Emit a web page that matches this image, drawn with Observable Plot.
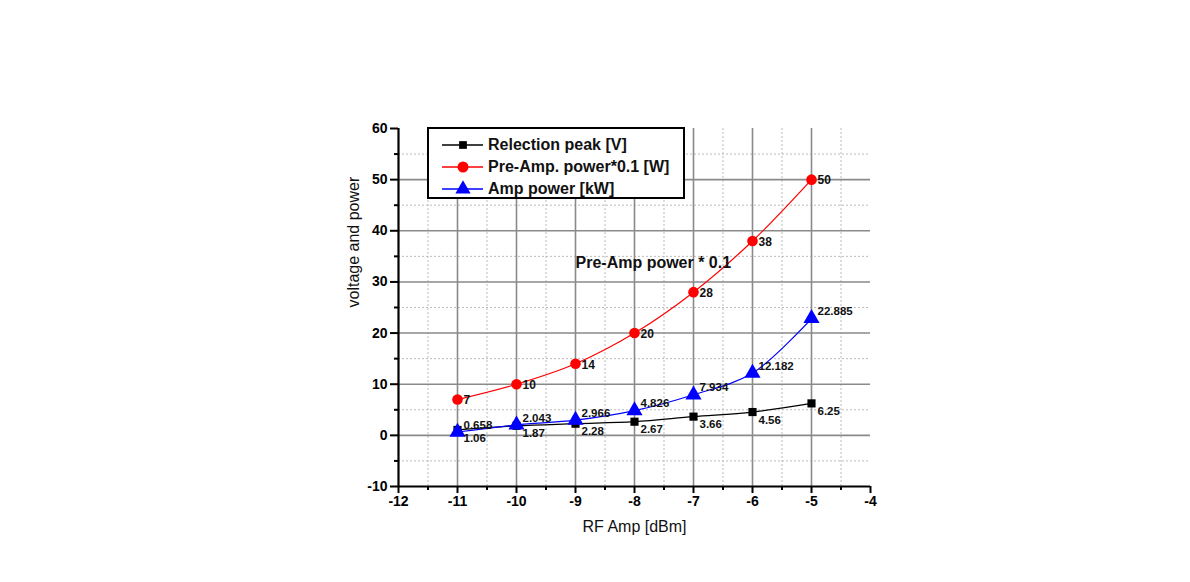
<!DOCTYPE html>
<html>
<head>
<meta charset="utf-8">
<script src="https://cdn.jsdelivr.net/npm/d3@7"></script>
<script src="https://cdn.jsdelivr.net/npm/@observablehq/plot@0.6"></script>
<style>
  html, body { margin: 0; padding: 0; background: #fff; }
  #wrap { position: relative; width: 1190px; height: 582px; font-family: "Liberation Sans", Arial, sans-serif; }
  #legend { position: absolute; left: 427px; top: 127px; width: 254px; height: 68px; border: 2px solid #000; background: #fff; }
  #legend .row { position: absolute; left: 0; height: 20px; display: flex; align-items: center; font-size: 16px; font-weight: bold; color: #111; }
  #legend svg { display: block; }
</style>
</head>
<body>
<div id="wrap"></div>
<script>
// ---- data ----
const rfAmp = [-11, -10, -9, -8, -7, -6, -5];
const relectionPeak = [1.06, 1.87, 2.28, 2.67, 3.66, 4.56, 6.25];
const relectionLabels = ["1.06", "1.87", "2.28", "2.67", "3.66", "4.56", "6.25"];
const preAmpPower = [7, 10, 14, 20, 28, 38, 50];
const preAmpLabels = ["7", "10", "14", "20", "28", "38", "50"];
const ampPower = [0.658, 2.043, 2.966, 4.826, 7.934, 12.182, 22.885];
const ampLabels = ["0.658", "2.043", "2.966", "4.826", "7.934", "12.182", "22.885"];
const seriesNames = ["Relection peak [V]", "Pre-Amp. power*0.1 [W]", "Amp power [kW]"];
const seriesColors = ["#000000", "#ff0000", "#0000ff"];
const seriesSymbols = ["square", "circle", "triangle"];
const xTicks = [-12, -11, -10, -9, -8, -7, -6, -5, -4];
const xMinor = [-11.5, -10.5, -9.5, -8.5, -7.5, -6.5, -5.5, -4.5];
const yTicks = [-10, 0, 10, 20, 30, 40, 50, 60];
const yMinor = [-5, 5, 15, 25, 35, 45, 55];
const annotation = [{x: -9.0, y: 33.8, text: "Pre-Amp power * 0.1"}];
const xLabel = "RF Amp [dBm]";
const yLabel = "voltage and power";

const mk = (vals, labels) => rfAmp.map((x, i) => ({x, y: vals[i], label: labels[i]}));
const sBlack = mk(relectionPeak, relectionLabels);
const sRed = mk(preAmpPower, preAmpLabels);
const sBlue = mk(ampPower, ampLabels);

const font = "'Liberation Sans', Arial, sans-serif";
const fmt = d => d < 0 ? "-" + Math.abs(d) : String(d);

const chart = Plot.plot({
  width: 1190,
  height: 582,
  marginLeft: 398,
  marginRight: 320,
  marginTop: 128,
  marginBottom: 96,
  style: {fontFamily: font, fontSize: "14px", background: "#fff", color: "#000"},
  x: {domain: [-12, -4]},
  y: {domain: [-10, 60]},
  marks: [
    // minor grid (dotted)
    Plot.ruleX(xMinor, {stroke: "#bbb", strokeDasharray: "2,2", strokeWidth: 1}),
    Plot.ruleY(yMinor, {stroke: "#bbb", strokeDasharray: "2,2", strokeWidth: 1}),
    // major grid
    Plot.ruleX(xTicks.slice(1, -1), {stroke: "#8a8a8a", strokeWidth: 1.6}),
    Plot.ruleY(yTicks.slice(1, -1), {stroke: "#8a8a8a", strokeWidth: 1.6}),
    // axes
    Plot.axisX({ticks: xMinor, tickSize: 4, tickFormat: () => "", label: null, strokeWidth: 2}),
    Plot.axisY({ticks: yMinor, tickSize: 4, tickFormat: () => "", label: null, strokeWidth: 2}),
    Plot.axisX({ticks: xTicks, tickSize: 7, tickPadding: 3, tickFormat: fmt, label: null, fontWeight: "bold", fontSize: 14, strokeWidth: 2}),
    Plot.axisY({ticks: yTicks, tickSize: 8, tickPadding: 3, tickFormat: fmt, label: null, fontWeight: "bold", fontSize: 14, strokeWidth: 2}),
    Plot.ruleX([-12], {stroke: "#000", strokeWidth: 2.2}),
    Plot.ruleY([-10], {stroke: "#000", strokeWidth: 2.2}),
    // lines
    Plot.line(sBlack, {x: "x", y: "y", stroke: seriesColors[0], strokeWidth: 1.2, curve: "catmull-rom"}),
    Plot.line(sRed, {x: "x", y: "y", stroke: seriesColors[1], strokeWidth: 1.2, curve: "catmull-rom"}),
    Plot.line(sBlue, {x: "x", y: "y", stroke: seriesColors[2], strokeWidth: 1.2, curve: "catmull-rom"}),
    // markers
    Plot.dot(sBlack, {x: "x", y: "y", symbol: seriesSymbols[0], r: 4.6, fill: seriesColors[0], stroke: null}),
    Plot.dot(sRed, {x: "x", y: "y", symbol: seriesSymbols[1], r: 5.3, fill: seriesColors[1], stroke: null}),
    Plot.dot(sBlue, {x: "x", y: "y", symbol: seriesSymbols[2], r: 6, fill: seriesColors[2], stroke: null}),
    // value labels
    Plot.text(sBlack, {x: "x", y: "y", text: "label", textAnchor: "start", dx: 6, dy: 8, fontSize: 11.5, fontWeight: "bold", fill: "#111"}),
    Plot.text(sRed, {x: "x", y: "y", text: "label", textAnchor: "start", dx: 6, dy: 1, fontSize: 12, fontWeight: "bold", fill: "#111"}),
    Plot.text(sBlue, {x: "x", y: "y", text: "label", textAnchor: "start", dx: 6, dy: -7, fontSize: 11.5, fontWeight: "bold", fill: "#111"}),
    // annotation
    Plot.text(annotation, {x: "x", y: "y", text: "text", textAnchor: "start", fontSize: 16, fontWeight: "bold", fill: "#111"}),
    // axis titles
    Plot.text([yLabel], {frameAnchor: "left", rotate: -90, dx: -45, fontSize: 16, fill: "#111"}),
    Plot.text([xLabel], {frameAnchor: "bottom", dy: 45, fontSize: 16, fill: "#111"})
  ]
});

const wrap = document.getElementById("wrap");
wrap.appendChild(chart);

// legend
const legend = document.createElement("div");
legend.id = "legend";
const rowTops = [6, 28, 50];
seriesNames.forEach((name, i) => {
  const row = document.createElement("div");
  row.className = "row";
  row.style.top = rowTops[i] + "px";
  const svg = d3.create("svg").attr("width", 58).attr("height", 20);
  svg.append("line").attr("x1", 13).attr("x2", 54).attr("y1", 10).attr("y2", 10)
    .attr("stroke", seriesColors[i]).attr("stroke-width", 1.5);
  const sym = {square: d3.symbolSquare, circle: d3.symbolCircle, triangle: d3.symbolTriangle}[seriesSymbols[i]];
  const size = seriesSymbols[i] === "square" ? 60 : seriesSymbols[i] === "circle" ? 95 : 100;
  svg.append("path").attr("d", d3.symbol(sym, size)()).attr("transform", "translate(34,10)")
    .attr("fill", seriesColors[i]);
  row.appendChild(svg.node());
  const span = document.createElement("span");
  span.textContent = name;
  span.style.marginLeft = "1px";
  row.appendChild(span);
  legend.appendChild(row);
});
wrap.appendChild(legend);
</script>
</body>
</html>
